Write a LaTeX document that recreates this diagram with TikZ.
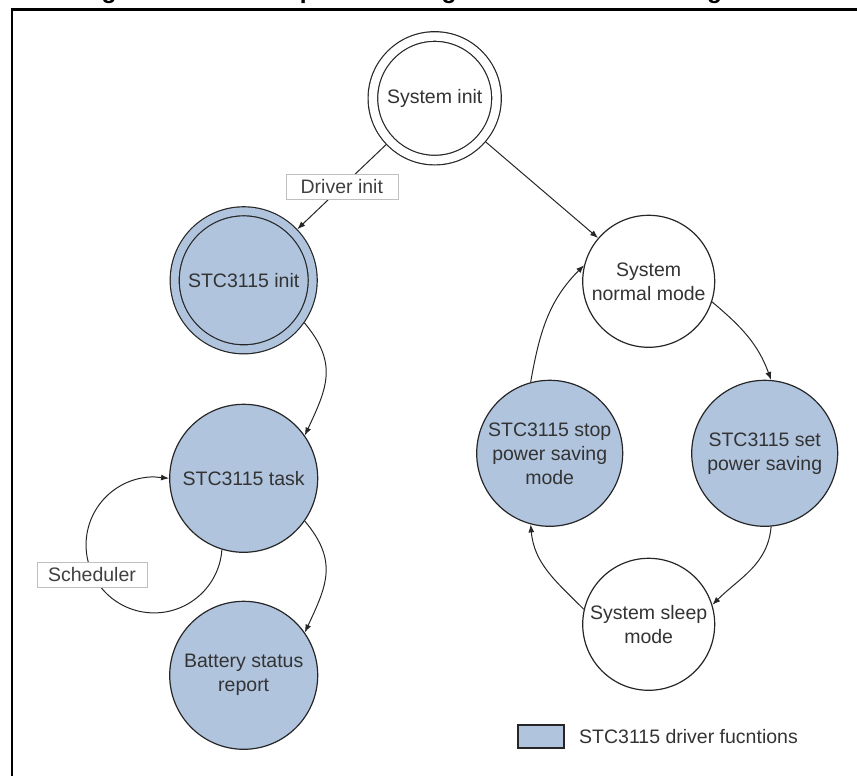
\documentclass[tikz,border=0pt]{standalone}
\usepackage{fontspec}
\setmainfont{Liberation Sans}
\usetikzlibrary{positioning,arrows.meta}
\definecolor{drvblue}{RGB}{176,196,222}
\definecolor{txtgray}{RGB}{51,51,51}

\begin{document}
\begin{tikzpicture}[x=1pt,y=1pt,on grid,
    every node/.style={font=\fontsize{19.5}{24}\selectfont,text=txtgray},
    st/.style={circle,draw=black!85,line width=1.2pt,inner sep=0pt,align=center,minimum size=132pt,fill=white},
    drv/.style={st,fill=drvblue,minimum size=148pt},
    dbl/.style={double distance=8.4pt,outer sep=5pt},
    lbl/.style={draw=black!25,fill=white,line width=0.6pt,minimum width=112pt,minimum height=25pt,inner sep=0pt,text=black!75},
    >={Latex[length=8pt,width=6pt]},
    conn/.style={->,draw=black!85,line width=1pt}]
  \useasboundingbox (0,0) rectangle (857,-776);
  \clip (0,0) rectangle (857,-776);
  \draw[line width=2.4pt] (12,-9.5) rectangle (880,-800);
  \node[anchor=base,font=\fontsize{24.5}{28}\selectfont\bfseries,text=black] (title) at (437,1)
    {Figure 6. STC3115 power saving mode software management};

  \node[st,dbl,minimum size=123.6pt] (sysinit) at (434.7,-98.3) {System init};
  \node[drv,dbl,double=drvblue,double distance=7.8pt,minimum size=138pt] (stcinit) [below left=182pt and 191pt of sysinit] {STC3115 init};
  \node[drv] (stctask) [below=198pt of stcinit] {STC3115 task};
  \node[drv] (battery) [below=197pt of stctask] {Battery status\\report};
  \node[st] (normal) [below right=183pt and 214pt of sysinit] {System\\normal mode};
  \node[drv,minimum size=146pt] (stopps) [below left=172pt and 99pt of normal] {STC3115 stop\\power saving\\mode};
  \node[drv,minimum size=146pt] (setps) [below right=172pt and 116pt of normal] {STC3115 set\\power saving};
  \node[st] (sleep) [below=343pt of normal] {System sleep\\mode};

  \draw[conn] (sysinit) -- node[lbl] (drvlbl) {Driver init} (stcinit);
  \draw[conn] (sysinit) -- (normal);
  \draw[conn] (stcinit.-35) to[out=-50,in=65,looseness=1.2] (stctask.35);
  \draw[conn] (stctask.-35) to[out=-50,in=65,looseness=1.2] (battery.35);
  \draw[conn] (stctask.-107) arc[start angle=-4,end angle=-270,radius=68] -- (stctask.west);
  \node[lbl,minimum width=110pt] (schedlbl) at (92,-574.5) {Scheduler};
  \draw[conn] (normal.-18) to[out=-40,in=110] (setps.85);
  \draw[conn] (setps.-85) to[out=-95,in=45] (sleep.17);
  \draw[conn] (sleep.167) to[out=135,in=-85] (stopps.-105);
  \draw[conn] (stopps.105) to[out=80,in=-135] (normal.166);

  \node[draw=black!85,line width=1.4pt,fill=drvblue,minimum width=46pt,minimum height=23pt,inner sep=0pt] (legbox) at (541,-736.5) {};
  \node[anchor=west] (legtext) at ([xshift=11pt]legbox.east) {STC3115 driver fucntions};
\end{tikzpicture}
\end{document}
